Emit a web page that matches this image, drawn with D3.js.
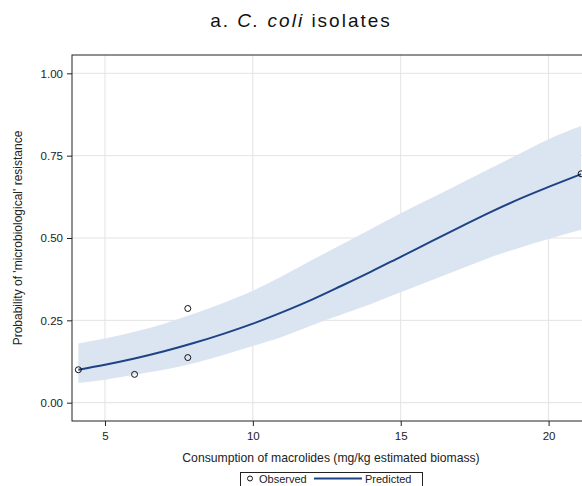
<!DOCTYPE html>
<html>
<head>
<meta charset="utf-8">
<script src="https://cdn.jsdelivr.net/npm/d3@7"></script>
<style>
  body { margin: 0; background: #fff; }
  svg { display: block; font-family: "Liberation Sans", Arial, sans-serif; }
</style>
</head>
<body>
<div id="chart"></div>
<script>
// consumption (mg/kg) and model output
let fitX = [4.1, 5, 6, 7, 8, 9, 10, 11, 12, 13, 14, 15, 16, 17, 18, 19, 20, 21.1];
let predicted = [0.100, 0.115, 0.134, 0.156, 0.181, 0.209, 0.240, 0.275, 0.313, 0.355, 0.398, 0.443, 0.488, 0.533, 0.577, 0.618, 0.655, 0.694];
let upperCL = [0.180, 0.195, 0.215, 0.240, 0.270, 0.303, 0.340, 0.385, 0.433, 0.480, 0.527, 0.575, 0.620, 0.665, 0.710, 0.755, 0.800, 0.840];
let lowerCL = [0.060, 0.070, 0.085, 0.100, 0.120, 0.145, 0.172, 0.200, 0.235, 0.268, 0.300, 0.335, 0.370, 0.405, 0.440, 0.470, 0.497, 0.525];

let obsX = [4.1, 6.0, 7.8, 7.8, 21.1];
let obsY = [0.100, 0.086, 0.286, 0.137, 0.695];

let xTicks = [5, 10, 15, 20];
let yTicks = [0, 0.25, 0.5, 0.75, 1];

const width = 582, height = 486;
const pLeft = 72, pTop = 55, pBottom = 421, pRight = 590;

const x = d3.scaleLinear().domain([3.885, 21.4]).range([pLeft, pRight]);
const y = d3.scaleLinear().domain([-0.0556, 1.0556]).range([pBottom, pTop]);

const svg = d3.select("#chart").append("svg")
  .attr("width", width)
  .attr("height", height);

// grid
svg.append("g")
  .selectAll("line")
  .data(xTicks)
  .join("line")
  .attr("x1", d => x(d)).attr("x2", d => x(d))
  .attr("y1", pTop).attr("y2", pBottom)
  .attr("stroke", "#e3e3e3");

svg.append("g")
  .selectAll("line")
  .data(yTicks)
  .join("line")
  .attr("x1", pLeft).attr("x2", pRight)
  .attr("y1", d => y(d)).attr("y2", d => y(d))
  .attr("stroke", "#e3e3e3");

const fit = fitX.map((d, i) => ({x: d, p: predicted[i], lo: lowerCL[i], hi: upperCL[i]}));

// confidence band
svg.append("path")
  .datum(fit)
  .attr("fill", "#dbe5f2")
  .attr("d", d3.area()
    .curve(d3.curveMonotoneX)
    .x(d => x(d.x))
    .y0(d => y(d.lo))
    .y1(d => y(d.hi)));

// predicted line
svg.append("path")
  .datum(fit)
  .attr("fill", "none")
  .attr("stroke", "#1d4385")
  .attr("stroke-width", 2)
  .attr("d", d3.line()
    .curve(d3.curveMonotoneX)
    .x(d => x(d.x))
    .y(d => y(d.p)));

// observed points
svg.append("g")
  .selectAll("circle")
  .data(obsX.map((d, i) => [d, obsY[i]]))
  .join("circle")
  .attr("cx", d => x(d[0]))
  .attr("cy", d => y(d[1]))
  .attr("r", 3)
  .attr("fill", "none")
  .attr("stroke", "#111")
  .attr("stroke-width", 1);

// axes
const xAxis = svg.append("g")
  .attr("transform", `translate(0,${pBottom})`)
  .call(d3.axisBottom(x).tickValues(xTicks).tickFormat(d3.format("d")).tickSize(5).tickPadding(6));

const yAxis = svg.append("g")
  .attr("transform", `translate(${pLeft},0)`)
  .call(d3.axisLeft(y).tickValues(yTicks).tickFormat(d3.format(".2f")).tickSize(5).tickPadding(4));

[xAxis, yAxis].forEach(a => {
  a.select(".domain").remove();
  a.selectAll("text").attr("font-size", 11.5).attr("fill", "#222").attr("font-family", "Liberation Sans, Arial, sans-serif");
  a.selectAll("line").attr("stroke", "#222");
});

// frame
svg.append("rect")
  .attr("x", pLeft).attr("y", pTop)
  .attr("width", pRight - pLeft).attr("height", pBottom - pTop)
  .attr("fill", "none")
  .attr("stroke", "#222");

// title
const title = svg.append("text")
  .attr("x", 301).attr("y", 27)
  .attr("text-anchor", "middle")
  .attr("font-size", 19)
  .attr("letter-spacing", 2)
  .attr("fill", "#111");
title.append("tspan").text("a. ");
title.append("tspan").attr("font-style", "italic").text("C. coli");
title.append("tspan").text(" isolates");

// axis labels
svg.append("text")
  .attr("x", 331).attr("y", 462)
  .attr("text-anchor", "middle")
  .attr("font-size", 12.2)
  .attr("fill", "#222")
  .text("Consumption of macrolides (mg/kg estimated biomass)");

svg.append("text")
  .attr("transform", `translate(22,${(pTop + pBottom) / 2}) rotate(-90)`)
  .attr("text-anchor", "middle")
  .attr("font-size", 12)
  .attr("fill", "#222")
  .text("Probability of 'microbiological' resistance");

// legend
const lg = svg.append("g");
lg.append("rect")
  .attr("x", 240.5).attr("y", 472.5)
  .attr("width", 182).attr("height", 16)
  .attr("fill", "#fff")
  .attr("stroke", "#222");
lg.append("circle")
  .attr("cx", 250).attr("cy", 478.5).attr("r", 2.5)
  .attr("fill", "none").attr("stroke", "#111");
lg.append("text")
  .attr("x", 259).attr("y", 482.5)
  .attr("font-size", 11).attr("fill", "#222")
  .text("Observed");
lg.append("line")
  .attr("x1", 314).attr("x2", 362)
  .attr("y1", 478.5).attr("y2", 478.5)
  .attr("stroke", "#1d4385").attr("stroke-width", 2);
lg.append("text")
  .attr("x", 365).attr("y", 482.5)
  .attr("font-size", 11).attr("fill", "#222")
  .text("Predicted");
</script>
</body>
</html>
